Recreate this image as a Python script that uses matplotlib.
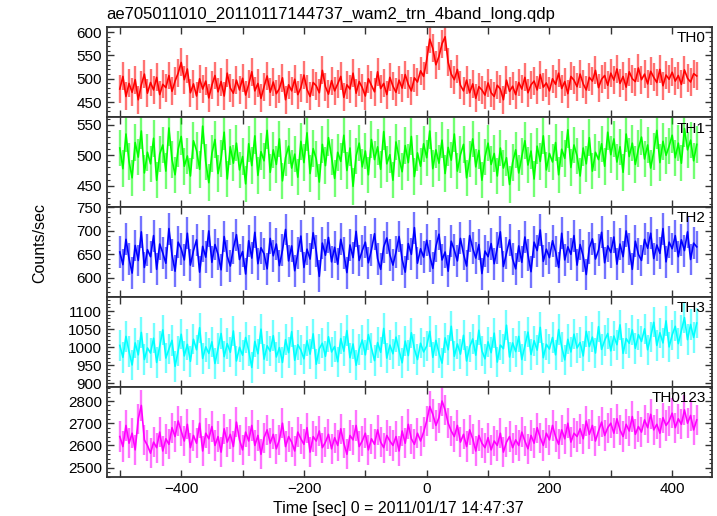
import matplotlib
matplotlib.use('Agg')
import matplotlib.pyplot as plt
import numpy as np
from matplotlib.ticker import MultipleLocator, FuncFormatter

plt.rcParams['font.family'] = ['Liberation Sans', 'DejaVu Sans']

# time bins, 5 s wide, from -500 to 440 s
t_start = -500
t_step = 5

th0 = [478, 505, 462, 490, 471, 498, 455, 487, 510, 469,
       492, 476, 503, 466, 488, 481, 507, 473, 495, 512,
       535, 498, 521, 470, 489, 463, 500, 478, 495, 459,
       486, 507, 472, 494, 463, 512, 480, 469, 497, 476,
       501, 465, 488, 515, 474, 490, 458, 483, 506, 471,
       493, 468, 479, 502, 455, 487, 474, 499, 466, 481,
       508, 477, 462, 492, 485, 470, 518, 483, 467, 496,
       474, 489, 505, 460, 487, 478, 512, 469, 494, 481,
       463, 500, 486, 472, 515, 479, 490, 466, 503, 484,
       471, 497, 480, 509, 488, 474, 502, 493, 517, 505,
       540, 585, 565, 530, 548, 575, 590, 535, 510, 498,
       520, 486, 474, 497, 470, 489, 458, 483, 476, 465,
       491, 470, 462, 486, 478, 455, 497, 473, 484, 466,
       492, 478, 503, 470, 487, 495, 476, 509, 482, 491,
       474, 500, 488, 512, 479, 494, 468, 505, 497, 483,
       510, 489, 476, 503, 495, 518, 481, 499, 507, 486,
       512, 497, 521, 490, 505, 482, 515, 500, 494, 523,
       498, 510, 489, 516, 503, 492, 520, 485, 508, 499,
       514, 495, 507, 488, 519, 501, 493, 511, 506]

th1 = [512, 478, 535, 490, 463, 521, 497, 540, 471, 505,
       486, 528, 459, 502, 517, 474, 545, 493, 468, 510,
       531, 482, 499, 466, 524, 508, 477, 548, 489, 455,
       503, 526, 470, 495, 538, 461, 514, 487, 520, 476,
       498, 453, 519, 483, 532, 467, 506, 491, 541, 472,
       509, 485, 527, 458, 496, 515, 479, 502, 464, 523,
       488, 537, 470, 511, 494, 456, 518, 483, 529, 497,
       462, 505, 490, 533, 475, 512, 449, 499, 520, 481,
       507, 468, 526, 493, 514, 477, 539, 486, 501, 459,
       522, 495, 473, 516, 488, 531, 465, 504, 482, 519,
       496, 540, 478, 509, 487, 525, 470, 513, 492, 535,
       474, 501, 518, 463, 494, 527, 481, 508, 459, 497,
       520, 485, 503, 466, 512, 479, 496, 452, 488, 509,
       471, 498, 524, 484, 507, 461, 515, 490, 532, 476,
       503, 489, 521, 468, 510, 495, 542, 480, 517, 499,
       466, 512, 486, 529, 474, 505, 493, 519, 482, 538,
       501, 527, 489, 514, 472, 535, 498, 520, 485, 511,
       530, 494, 517, 479, 506, 541, 488, 523, 500, 515,
       533, 496, 520, 487, 544, 509, 525, 491, 518]

th2 = [655, 628, 682, 641, 610, 669, 637, 698, 622, 660,
       645, 690, 618, 672, 653, 631, 705, 649, 614, 676,
       662, 638, 695, 627, 658, 681, 612, 667, 644, 700,
       633, 671, 650, 617, 688, 646, 625, 663, 692, 639,
       656, 608, 679, 642, 697, 630, 664, 651, 619, 684,
       647, 672, 626, 659, 703, 636, 668, 615, 653, 689,
       622, 661, 640, 696, 657, 603, 674, 648, 686, 634,
       665, 629, 682, 652, 611, 670, 643, 699, 637, 658,
       676, 632, 660, 694, 641, 618, 666, 685, 649, 627,
       655, 688, 639, 612, 673, 650, 707, 631, 662, 644,
       680, 647, 620, 667, 693, 638, 655, 614, 678, 659,
       636, 684, 651, 625, 690, 663, 642, 671, 609, 657,
       645, 673, 630, 664, 698, 624, 652, 681, 640, 619,
       668, 633, 687, 649, 613, 676, 658, 702, 635, 661,
       643, 679, 656, 622, 695, 638, 666, 650, 690, 627,
       671, 646, 607, 664, 683, 640, 659, 697, 632, 668,
       654, 687, 629, 672, 645, 700, 661, 618, 678, 650,
       637, 682, 663, 695, 641, 670, 652, 705, 634, 676,
       662, 690, 645, 681, 658, 698, 639, 674, 666]

th3 = [1005, 972, 1030, 988, 951, 1012, 979, 1041, 966, 998,
       984, 1025, 958, 1003, 1048, 970, 995, 1019, 947, 990,
       1036, 976, 1008, 961, 1022, 993, 1054, 969, 1001, 983,
       1015, 955, 997, 1038, 974, 1010, 986, 1045, 962, 1000,
       978, 1027, 991, 944, 1016, 982, 1050, 967, 1004, 989,
       1032, 973, 999, 958, 1021, 985, 1043, 964, 1007, 992,
       968, 1018, 981, 1037, 953, 996, 1011, 975, 1029, 987,
       1002, 960, 1024, 989, 1046, 971, 1009, 950, 994, 1020,
       979, 1035, 998, 963, 1013, 986, 1052, 970, 1006, 982,
       1028, 991, 957, 1017, 977, 1040, 995, 966, 1011, 987,
       1003, 1044, 972, 1019, 984, 956, 1026, 993, 1058, 975,
       1009, 981, 1033, 962, 1001, 1023, 978, 1047, 990, 968,
       1015, 985, 1039, 959, 1006, 996, 1061, 973, 1012, 988,
       1030, 966, 1004, 1042, 980, 1018, 992, 1055, 971, 1008,
       995, 1027, 979, 1049, 1001, 965, 1022, 987, 1036, 998,
       1013, 976, 1044, 1002, 1028, 984, 1057, 994, 1019, 1038,
       990, 1031, 1007, 1062, 983, 1024, 1011, 1048, 997, 1035,
       1016, 1051, 993, 1029, 1069, 1005, 1040, 1012, 1073, 1001,
       1034, 1058, 1010, 1046, 1082, 1021, 1063, 1027, 1067]

th0123 = [2640, 2595, 2690, 2610, 2655, 2580, 2720, 2780, 2625, 2600,
          2565, 2615, 2590, 2660, 2575, 2630, 2605, 2680, 2640, 2710,
          2665, 2620, 2695, 2590, 2645, 2610, 2700, 2575, 2655, 2630,
          2685, 2600, 2640, 2570, 2675, 2615, 2650, 2595, 2705, 2625,
          2580, 2660, 2620, 2690, 2600, 2645, 2560, 2635, 2670, 2610,
          2650, 2585, 2625, 2700, 2595, 2640, 2615, 2575, 2660, 2630,
          2605, 2680, 2570, 2640, 2620, 2665, 2590, 2615, 2650, 2585,
          2635, 2600, 2675, 2610, 2560, 2645, 2625, 2690, 2595, 2620,
          2655, 2580, 2630, 2605, 2670, 2615, 2590, 2645, 2620, 2600,
          2640, 2575, 2665, 2610, 2695, 2630, 2605, 2655, 2620, 2660,
          2710, 2775, 2740, 2690, 2725, 2800, 2760, 2700, 2665, 2640,
          2690, 2615, 2650, 2595, 2670, 2630, 2575, 2645, 2610, 2590,
          2635, 2580, 2620, 2600, 2655, 2570, 2615, 2640, 2590, 2625,
          2600, 2660, 2620, 2585, 2645, 2610, 2680, 2635, 2600, 2655,
          2625, 2690, 2640, 2605, 2670, 2630, 2700, 2615, 2655, 2640,
          2675, 2630, 2710, 2650, 2690, 2620, 2665, 2705, 2645, 2680,
          2700, 2655, 2720, 2670, 2640, 2695, 2665, 2730, 2650, 2685,
          2660, 2715, 2680, 2740, 2670, 2695, 2655, 2725, 2690, 2710,
          2745, 2680, 2720, 2695, 2760, 2700, 2735, 2670, 2715]

# typical 1-sigma error per bin for each band
errs = [30, 30, 34, 42, 68]

names = ['TH0', 'TH1', 'TH2', 'TH3', 'TH0123']
colors = ['#ff0000', '#00ff00', '#0000ff', '#00ffff', '#ff00ff']
series = [th0, th1, th2, th3, th0123]
ylims = [(418, 611), (415, 563), (559, 751), (890, 1139), (2458, 2863)]
ymajor = [50, 50, 50, 50, 100]
yminor = [10, 10, 10, 10, 20]

W, H = 717, 516
fig = plt.figure(figsize=(W / 100, H / 100), dpi=100)

left, right = 106.7, 711.7
top = 27
ph = 90

xlim = (-521.4, 464.4)
for k in range(5):
    y0 = top + k * ph
    ax = fig.add_axes([left / W, 1 - (y0 + ph) / H, (right - left) / W, ph / H])
    vals = np.array(series[k], dtype=float)
    t = t_start + t_step * np.arange(len(vals))
    ax.errorbar(t, vals, yerr=errs[k], fmt='none', ecolor=colors[k],
                alpha=0.55, elinewidth=1.7)
    ax.plot(t, vals, color=colors[k], lw=1.2)
    ax.set_xlim(*xlim)
    ax.set_ylim(*ylims[k])
    ax.xaxis.set_major_locator(MultipleLocator(100))
    ax.yaxis.set_major_locator(MultipleLocator(ymajor[k]))
    ax.yaxis.set_minor_locator(MultipleLocator(yminor[k]))
    ax.tick_params(which='both', direction='in', top=True, right=True,
                   color='#333333', labelsize=11)
    ax.tick_params(which='major', length=5, width=1)
    ax.tick_params(which='minor', length=2.5, width=0.8)
    for s in ax.spines.values():
        s.set_linewidth(1.3)
        s.set_color('#333333')
    ax.text(0.99, 0.95, names[k], transform=ax.transAxes, ha='right',
            va='top', fontsize=11)
    if k < 4:
        ax.tick_params(labelbottom=False)
    else:
        ax.xaxis.set_major_formatter(FuncFormatter(
            lambda v, p: ('%d' % v).replace('-', '\u2212') if round(v) % 200 == 0 else ''))

fig.text(left / W, 1 - 14 / H, 'ae705011010_20110117144737_wam2_trn_4band_long.qdp',
         ha='left', va='center', fontsize=12)
fig.text(40 / W, 1 - 243 / H, 'Counts/sec', rotation=90, ha='center',
         va='center', fontsize=11.5)
fig.text(398 / W, 1 - 508 / H, 'Time [sec] 0 = 2011/01/17 14:47:37',
         ha='center', va='center', fontsize=11.5)

fig.savefig('out.png', dpi=100)
